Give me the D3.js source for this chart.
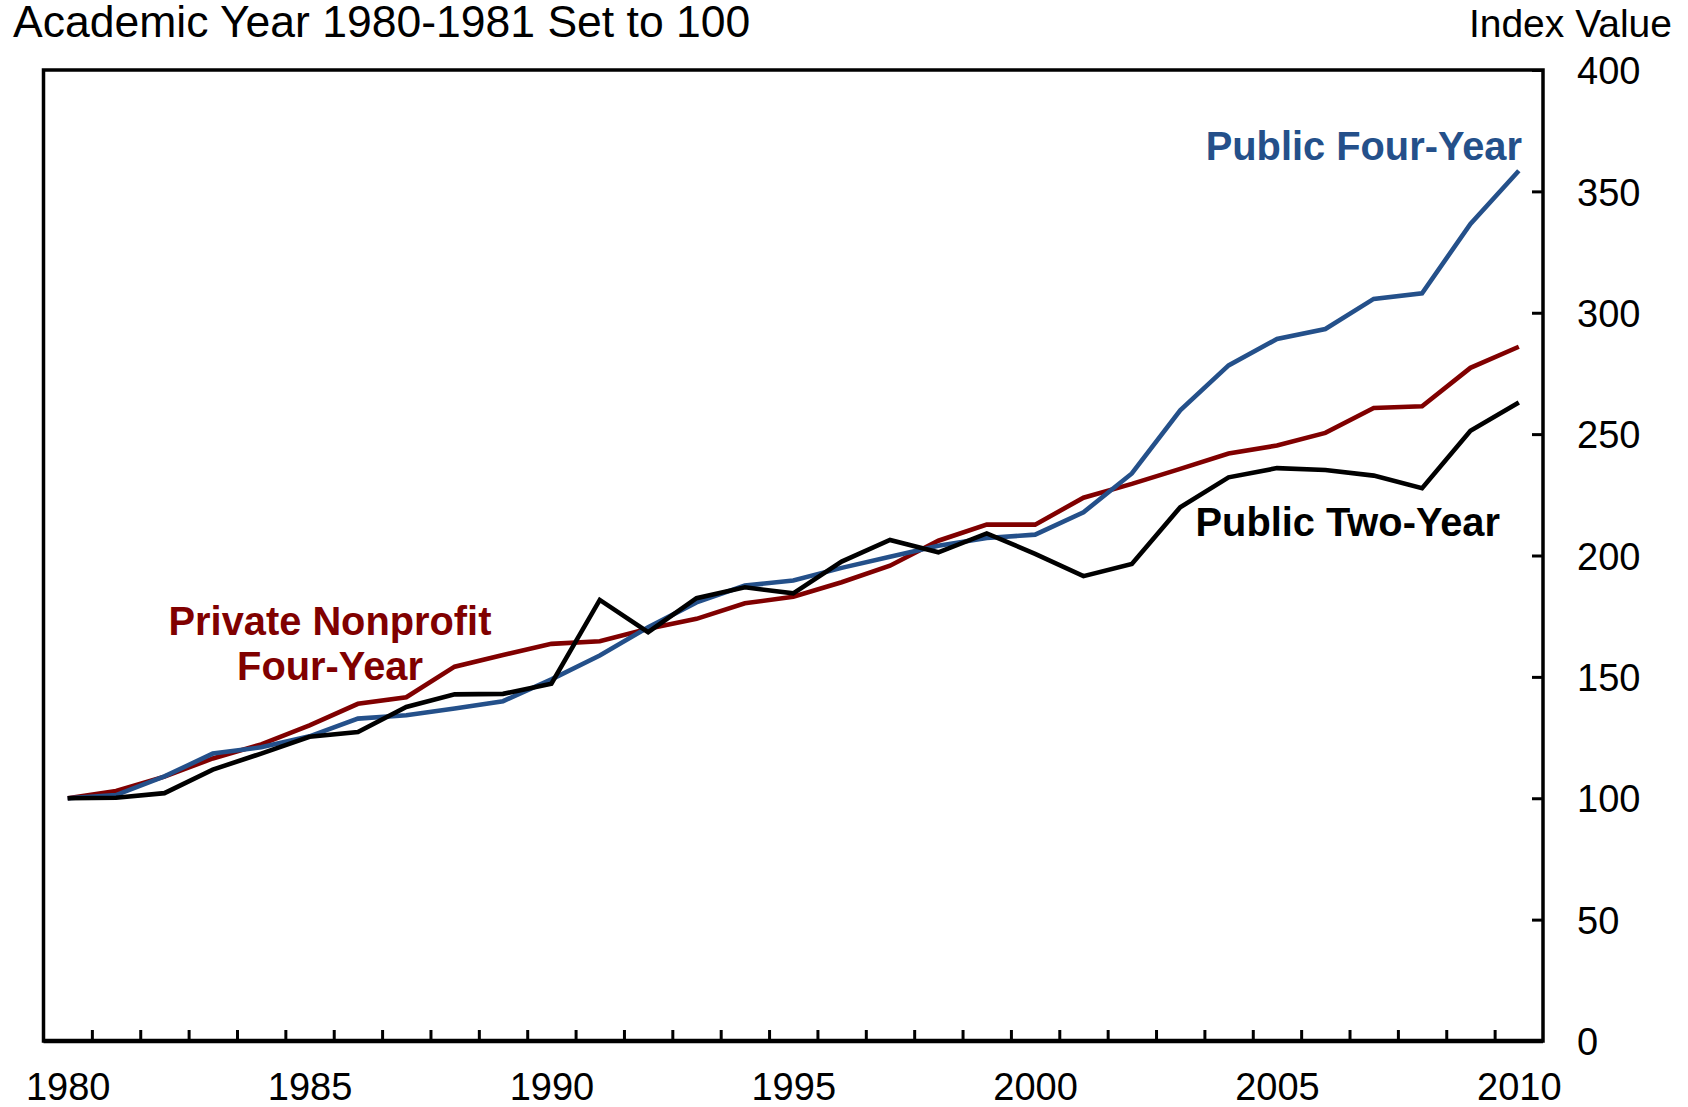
<!DOCTYPE html>
<html>
<head>
<meta charset="utf-8">
<script src="https://cdn.jsdelivr.net/npm/d3@7"></script>
<style>
  body { margin: 0; background: #fff; }
  svg { display: block; font-family: "Liberation Sans", Arial, sans-serif; }
  .axis text { fill: #000; }
  .lbl { font-weight: bold; }
</style>
</head>
<body>
<svg></svg>
<script>
var width = 1688;
var height = 1107;

// academic years (start year), 1980-81 = 100
var years = d3.range(1980, 2011);

var publicFour = [100, 101.3, 109, 118.4, 121, 125.5, 132.8, 134.2, 137, 140,
  149, 158.8, 170.4, 180.7, 187.6, 189.7, 194.9, 199.5, 204, 207.2,
  208.6, 217.8, 233.8, 259.8, 278.3, 289.2, 293.3, 305.7, 308, 336.6, 358.5];

var privateFour = [100, 103, 108.9, 116.4, 122.2, 130, 138.9, 141.6, 154.2, 159,
  163.6, 164.7, 169.8, 173.9, 180.3, 183, 189, 195.8, 206.1, 212.7,
  212.7, 223.8, 229.5, 235.7, 242, 245.3, 250.5, 260.8, 261.5, 277.3, 286];

var publicTwo = [100, 100.2, 102.1, 111.8, 118.4, 125.3, 127.3, 137.6, 142.8, 143,
  147.2, 181.7, 168.4, 182.4, 186.9, 184.4, 197.5, 206.4, 201.3, 209.1,
  200.7, 191.5, 196.5, 219.9, 232.2, 236, 235.2, 232.9, 227.7, 251.4, 263];

var yTicks = [0, 50, 100, 150, 200, 250, 300, 350, 400];
var xLabels = [1980, 1985, 1990, 1995, 2000, 2005, 2010];
var minorTicks = d3.range(1980.5, 2010, 1);

var series = [
  {name: "Private Nonprofit", values: privateFour, color: "#800000"},
  {name: "Public Four-Year", values: publicFour, color: "#24508a"},
  {name: "Public Two-Year", values: publicTwo, color: "#000000"}
];

// plot box edges (window.top is reserved, so use a margin object)
var box = {left: 43.5, right: 1543, top: 70, bottom: 1041};

var svg = d3.select("svg")
  .attr("width", width)
  .attr("height", height);

var x = d3.scaleLinear().domain([1979.5, 2010.5]).range([box.left, box.right]);
var y = d3.scaleLinear().domain([0, 400]).range([box.bottom, box.top]);

// y axis on the right, ticks pointing inward
svg.append("g")
  .attr("class", "axis")
  .attr("transform", "translate(" + box.right + ",0)")
  .call(d3.axisRight(y).tickValues(yTicks).tickSizeInner(-11).tickSizeOuter(0).tickPadding(34))
  .call(function(g) {
    g.select(".domain").remove();
    g.selectAll("line").attr("stroke", "#000").attr("stroke-width", 3);
    g.selectAll("text").attr("font-size", 38).attr("dy", "0.36em");
  });

// minor ticks on the bottom axis
svg.append("g")
  .attr("class", "axis")
  .attr("transform", "translate(0," + box.bottom + ")")
  .call(d3.axisBottom(x).tickValues(minorTicks).tickSizeInner(-11).tickSizeOuter(0).tickFormat(""))
  .call(function(g) {
    g.select(".domain").remove();
    g.selectAll("line").attr("stroke", "#000").attr("stroke-width", 3);
  });

// year labels
svg.append("g")
  .attr("class", "axis")
  .attr("transform", "translate(0," + box.bottom + ")")
  .call(d3.axisBottom(x).tickValues(xLabels).tickSize(0).tickPadding(32).tickFormat(d3.format("d")))
  .call(function(g) {
    g.select(".domain").remove();
    g.selectAll("text").attr("font-size", 38);
  });

// lines
var line = d3.line()
  .x(function(d, i) { return x(years[i]); })
  .y(function(d) { return y(d); });

svg.append("g")
  .selectAll("path")
  .data(series)
  .enter().append("path")
  .attr("d", function(d) { return line(d.values); })
  .attr("fill", "none")
  .attr("stroke", function(d) { return d.color; })
  .attr("stroke-width", 4.6)
  .attr("stroke-linejoin", "miter");

// frame
svg.append("path")
  .attr("d", "M" + box.left + "," + box.top + "H" + box.right + "V" + box.bottom + "H" + box.left + "Z")
  .attr("fill", "none")
  .attr("stroke", "#000")
  .attr("stroke-width", 3.5);
svg.append("line")
  .attr("x1", box.left).attr("x2", box.right)
  .attr("y1", box.bottom).attr("y2", box.bottom)
  .attr("stroke", "#000")
  .attr("stroke-width", 4.5);

// titles
svg.append("text")
  .attr("x", 13).attr("y", 37)
  .attr("font-size", 44.5)
  .text("Academic Year 1980-1981 Set to 100");

svg.append("text")
  .attr("x", 1672).attr("y", 37)
  .attr("font-size", 39)
  .attr("text-anchor", "end")
  .text("Index Value");

// series labels
svg.append("text")
  .attr("class", "lbl")
  .attr("x", 1522).attr("y", 160)
  .attr("font-size", 39.8)
  .attr("text-anchor", "end")
  .attr("fill", "#24508a")
  .text("Public Four-Year");

svg.append("text")
  .attr("class", "lbl")
  .attr("x", 1500).attr("y", 536)
  .attr("font-size", 39.8)
  .attr("text-anchor", "end")
  .attr("fill", "#000")
  .text("Public Two-Year");

var pn = svg.append("text")
  .attr("class", "lbl")
  .attr("font-size", 39.8)
  .attr("text-anchor", "middle")
  .attr("fill", "#800000");
pn.append("tspan").attr("x", 330).attr("y", 635).text("Private Nonprofit");
pn.append("tspan").attr("x", 330).attr("y", 680).text("Four-Year");
</script>
</body>
</html>
